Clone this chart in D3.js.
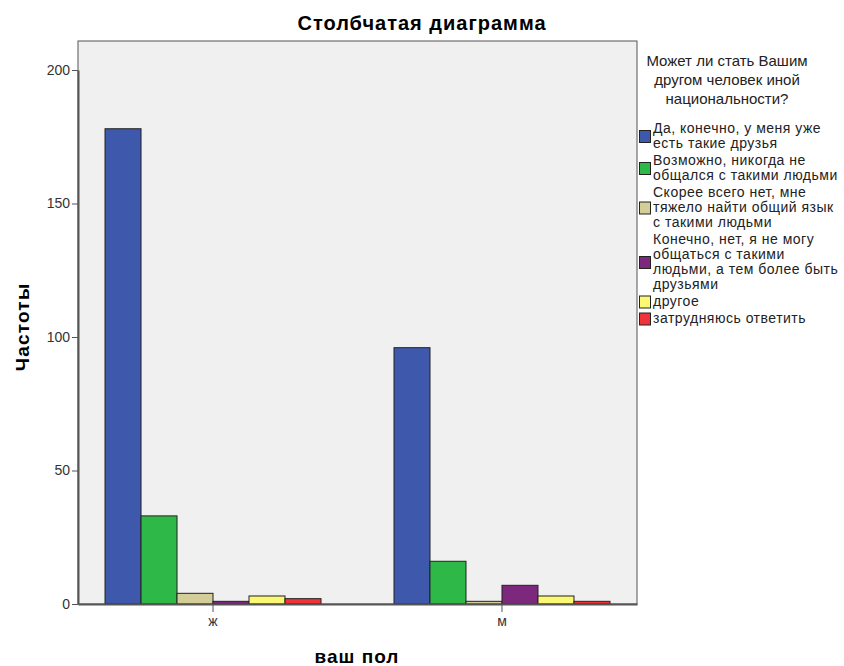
<!DOCTYPE html>
<html>
<head>
<meta charset="utf-8">
<script src="https://cdn.jsdelivr.net/npm/d3@7"></script>
<style>
  body { margin: 0; background: #fff; }
  text { font-family: "Liberation Sans", Arial, sans-serif; }
</style>
</head>
<body>
<div id="chart"></div>
<script>
// данные
const genders = ["ж", "м"];
const answers = [
    "Да, конечно, у меня уже есть такие друзья",
    "Возможно, никогда не общался с такими людьми",
    "Скорее всего нет, мне тяжело найти общий язык с такими людьми",
    "Конечно, нет, я не могу общаться с такими людьми, а тем более быть друзьями",
    "другое",
    "затрудняюсь ответить"
];
const legendLines = [
    ["Да, конечно, у меня уже", "есть такие друзья"],
    ["Возможно, никогда не", "общался с такими людьми"],
    ["Скорее всего нет, мне", "тяжело найти общий язык", "с такими людьми"],
    ["Конечно, нет, я не могу", "общаться с такими", "людьми, а тем более быть", "друзьями"],
    ["другое"],
    ["затрудняюсь ответить"]
];
const femaleCounts = [178, 33, 4, 1, 3, 2];
const maleCounts = [96, 16, 1, 7, 3, 1];
const yTicks = [0, 50, 100, 150, 200];
const colors = ["#3e58ac", "#2eb848", "#d3ce97", "#7c287d", "#fbf873", "#ef3338"];

const svgWidth = 844, svgHeight = 666;
const margin = { top: 41, left: 78, right: 207, bottom: 62 };
const width = svgWidth - margin.left - margin.right;
const height = svgHeight - margin.top - margin.bottom;

const data = [];
genders.forEach((g, gi) => {
    const vals = gi === 0 ? femaleCounts : maleCounts;
    answers.forEach((a, ai) => data.push({ gender: g, answer: a, idx: ai, value: vals[ai] }));
});

const svg = d3.select("#chart").append("svg")
    .attr("width", svgWidth)
    .attr("height", svgHeight);

// заголовок
svg.append("text")
    .attr("x", 422).attr("y", 30)
    .attr("text-anchor", "middle")
    .style("font-size", "20px")
    .style("font-weight", "bold")
    .style("letter-spacing", "1px")
    .text("Столбчатая диаграмма");

const g = svg.append("g")
    .attr("transform", `translate(${margin.left},${margin.top})`);

g.append("rect")
    .attr("width", width).attr("height", height)
    .attr("fill", "#f0f0f0")
    .attr("stroke", "#555").attr("stroke-width", 1);

const y = d3.scaleLinear().domain([0, 200]).range([height, 29]);

const x0 = d3.scaleBand().domain(genders).range([0, width]).paddingInner(0.2526).paddingOuter(0.0935);
const x1 = d3.scaleBand().domain(d3.range(answers.length)).range([0, x0.bandwidth()]);

g.selectAll("rect.bar")
    .data(data)
    .enter().append("rect")
    .attr("class", "bar")
    .attr("x", d => x0(d.gender) + x1(d.idx))
    .attr("y", d => y(d.value))
    .attr("width", x1.bandwidth())
    .attr("height", d => height - y(d.value))
    .attr("fill", d => colors[d.idx])
    .attr("stroke", "#222")
    .attr("stroke-width", 1);

// оси
const yAxis = g.append("g")
    .call(d3.axisLeft(y).tickValues(yTicks).tickSize(6).tickSizeOuter(0).tickPadding(2));
yAxis.select(".domain").attr("stroke", "#555").attr("stroke-width", 2);
yAxis.selectAll(".tick line").attr("stroke", "#555");
yAxis.selectAll("text").style("font-size", "14px").attr("fill", "#333");

const xAxis = g.append("g")
    .attr("transform", `translate(0,${height})`)
    .call(d3.axisBottom(x0).tickSize(8).tickSizeOuter(0).tickPadding(4));
xAxis.select(".domain").attr("stroke", "#555").attr("stroke-width", 2);
xAxis.selectAll(".tick line").attr("stroke", "#555");
xAxis.selectAll("text").style("font-size", "14px").attr("fill", "#333");

// подписи осей
svg.append("text")
    .attr("x", 357).attr("y", 663)
    .attr("text-anchor", "middle")
    .style("font-size", "19px").style("font-weight", "bold")
    .style("letter-spacing", "1px")
    .text("ваш пол");

svg.append("text")
    .attr("transform", `translate(29,327) rotate(-90)`)
    .attr("text-anchor", "middle")
    .style("font-size", "19px").style("font-weight", "bold")
    .style("letter-spacing", "1.2px")
    .text("Частоты");

// легенда
const legend = svg.append("g").attr("class", "legend");
["Может ли стать Вашим", "другом человек иной", "национальности?"].forEach((t, i) => {
    legend.append("text")
        .attr("x", 727).attr("y", 66 + i * 19)
        .attr("text-anchor", "middle")
        .style("font-size", "15px").attr("fill", "#222")
        .text(t);
});

const lineH = 15;
let yPos = 133;
legendLines.forEach((lines, i) => {
    const n = lines.length;
    const midY = yPos + (n - 1) * lineH / 2 - 4;
    legend.append("rect")
        .attr("x", 639.5).attr("y", midY - 6)
        .attr("width", 11).attr("height", 12)
        .attr("fill", colors[i]).attr("stroke", "#222");
    lines.forEach((t, j) => {
        legend.append("text")
            .attr("x", 653).attr("y", yPos + j * lineH)
            .style("font-size", "14px").style("letter-spacing", "0.5px")
            .attr("fill", "#222")
            .text(t);
    });
    yPos += n * lineH + 2;
});
</script>
</body>
</html>
